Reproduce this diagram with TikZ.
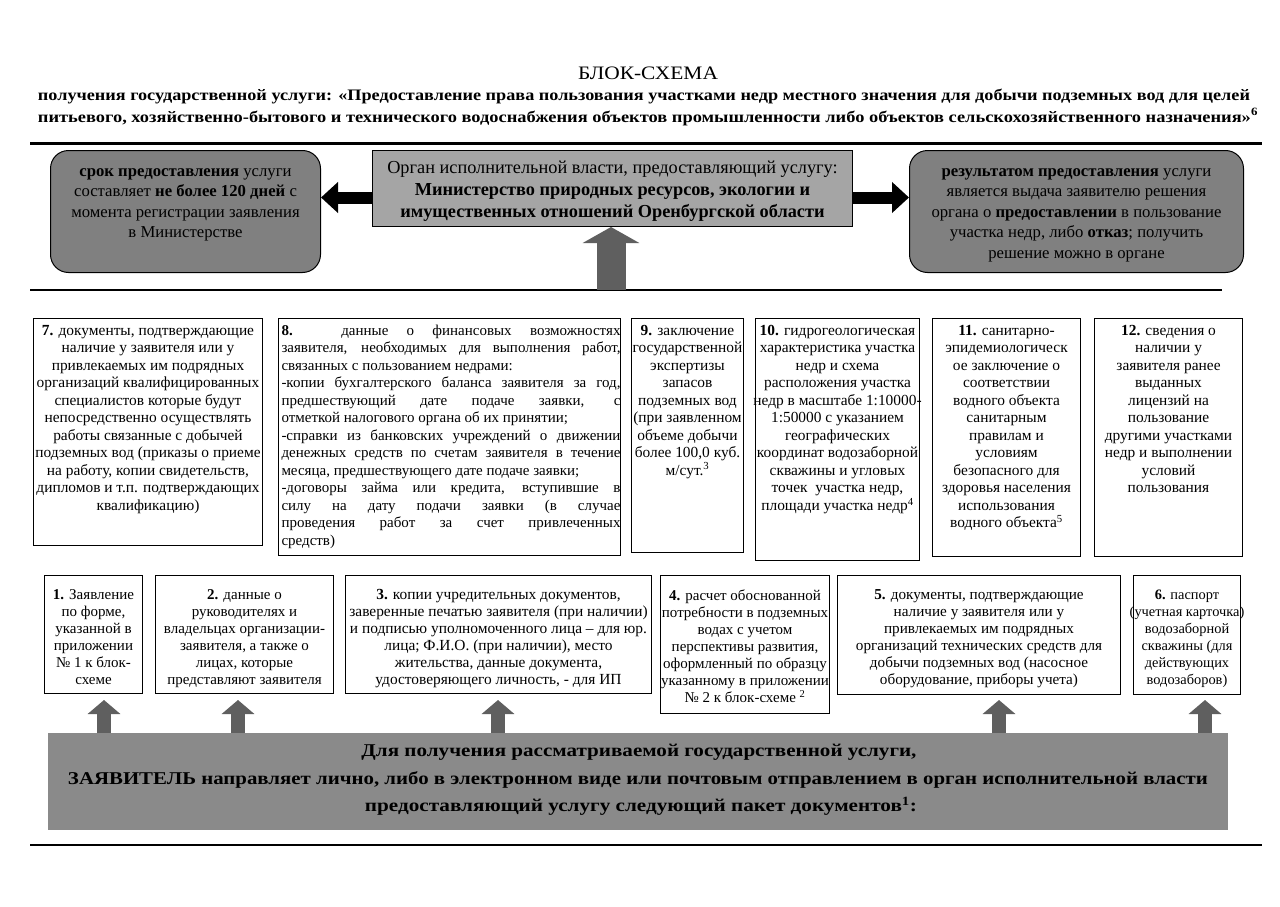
\documentclass[tikz,border=0pt]{standalone}
\usepackage{fontspec}
\setmainfont{Liberation Serif}
\usetikzlibrary{arrows.meta}
\definecolor{rgray}{RGB}{128,128,128}
\definecolor{cgray}{RGB}{165,165,165}
\definecolor{bgray}{RGB}{138,138,138}
\definecolor{agray}{RGB}{95,95,95}
\newcommand\fitw[2]{\resizebox{#1}{\height}{#2}}
\newcommand\ov[1]{\makebox[\linewidth][c]{#1}}
% middle row box text
\newcommand\bx[3]{\parbox[c][#2][t]{#1}{\vspace*{6.5pt}\centering\fontsize{15.4}{17.5}\selectfont #3}}
% lower row box text
\newcommand\lx[4]{\parbox[c][#2][t]{#1}{\vspace*{14pt}\centering\fontsize{#3}{17}\selectfont #4}}
\newcommand\rx[3]{\parbox[c][#2][t]{#1}{\vspace*{18pt}\centering\fontsize{16.7}{20.5}\selectfont #3}}
\begin{document}
\begin{tikzpicture}[x=1pt,y=-1pt,
  box/.style={draw, line width=1pt, inner sep=0pt, anchor=north west, fill=white},
  rbox/.style={draw, line width=1pt, inner sep=0pt, anchor=north west, fill=rgray, rounded corners=18pt},
  rule/.style={line width=#1},
  blkarr/.style={line width=12pt, black, -{Triangle[width=30pt,length=17pt]}},
  bigup/.style={line width=29pt, agray, -{Triangle[width=56pt,length=16pt]}},
  smallup/.style={line width=14pt, agray, -{Triangle[width=32pt,length=14pt]}}
]
\useasboundingbox (0,0) rectangle (1280,907);
\fill[white] (0,0) rectangle (1280,907);

% titles
\node[font=\fontsize{19}{22}\selectfont] (title) at (648,73) {\fitw{140pt}{БЛОК-СХЕМА}};
\node[font=\bfseries\fontsize{16}{19}\selectfont] (sub1) at (644,96) {\fitw{1212pt}{получения государственной услуги: «Предоставление права пользования участками недр местного значения для добычи подземных вод для целей}};
\node[font=\bfseries\fontsize{16}{19}\selectfont] (sub2) at (648,117) {\fitw{1220pt}{питьевого, хозяйственно-бытового и технического водоснабжения объектов промышленности либо объектов сельскохозяйственного назначения»\textsuperscript{6}}};

\draw[rule=3pt] (30,143) -- (1262,143);
\draw[rule=2pt] (30,290) -- (1222,290);
\draw[rule=2pt] (30,845) -- (1262,845);

% top row
\node[rbox] (lt) at (50,150) {\rx{270pt}{122pt}{\textbf{срок предоставления} услуги\\ составляет \textbf{не более 120 дней} с\\ момента регистрации заявления\\ в Министерстве}};
\node[rbox] (rt) at (909,150) {\rx{334pt}{122pt}{\textbf{результатом предоставления} услуги\\ является выдача заявителю решения\\ органа о \textbf{предоставлении} в пользование\\ участка недр, либо \textbf{отказ}; получить\\ решение можно в органе}};
\node[draw, line width=1pt, fill=cgray, anchor=north west, minimum width=480pt, minimum height=76pt, inner sep=0pt, align=center, font=\fontsize{18.3}{22}\selectfont] (ctr) at (372,150) {\rule{0pt}{17pt}Орган исполнительной власти, предоставляющий услугу:\\ \textbf{Министерство природных ресурсов, экологии и}\\ \textbf{имущественных отношений Оренбургской области}};

\draw[blkarr] ([yshift=-9pt]ctr.west) -- ([yshift=-9pt]ctr.west -| lt.east);
\draw[blkarr] ([yshift=-9pt]ctr.east) -- ([yshift=-9pt]ctr.east -| rt.west);
\coordinate (mid) at (611,290);
\draw[bigup] (mid) -- (mid |- ctr.south);

% middle row
\node[box] (b7) at (33,318) {\bx{229pt}{227pt}{\textbf{7.} документы, подтверждающие\\ наличие у заявителя или у\\ привлекаемых им подрядных\\ организаций квалифицированных\\ специалистов которые будут\\ непосредственно осуществлять\\ работы связанные с добычей\\ подземных вод (приказы о приеме\\ на работу, копии свидетельств,\\ дипломов и т.п. подтверждающих\\ квалификацию)}};
\node[box] (b8) at (278,318) {\hspace{3pt}\parbox[c][237pt][t]{339pt}{\vspace*{6.5pt}\fontsize{15}{17.5}\selectfont \textbf{8.} данные о финансовых возможностях\linebreak заявителя, необходимых для выполнения работ,\linebreak связанных с пользованием недрами:\\ -копии бухгалтерского баланса заявителя за год,\linebreak предшествующий дате подаче заявки, с\linebreak отметкой налогового органа об их принятии;\\ -справки из банковских учреждений о движении\linebreak денежных средств по счетам заявителя в течение\linebreak месяца, предшествующего дате подаче заявки;\\ -договоры займа или кредита, вступившие в\linebreak силу на дату подачи заявки (в случае\linebreak проведения работ за счет привлеченных\linebreak средств)}\hspace{3pt}};
\node[box] (b9) at (631,318) {\bx{112pt}{234pt}{\textbf{9.} заключение\\ \ov{государственной}\\ экспертизы\\ запасов\\ подземных вод\\ \ov{(при заявленном}\\ объеме добычи\\ \ov{более 100,0 куб.}\\ м/сут.\textsuperscript{3}}};
\node[box] (b10) at (755,318) {\bx{164pt}{242pt}{\textbf{10.} гидрогеологическая\\ \ov{характеристика участка}\\ недр и схема\\ расположения участка\\ \ov{недр в масштабе 1:10000-}\\ 1:50000 с указанием\\ географических\\ \ov{координат водозаборной}\\ скважины и угловых\\ точек~ участка недр,\\ площади участка недр\textsuperscript{4}}};
\node[box] (b11) at (932,318) {\bx{148pt}{238pt}{\textbf{11.} санитарно-\\ эпидемиологическ\\ ое заключение о\\ соответствии\\ водного объекта\\ санитарным\\ правилам и\\ условиям\\ безопасного для\\ \ov{здоровья населения}\\ использования\\ водного объекта\textsuperscript{5}}};
\node[box] (b12) at (1094,318) {\bx{148pt}{238pt}{\textbf{12.} сведения о\\ наличии у\\ заявителя ранее\\ выданных\\ лицензий на\\ пользование\\ \ov{другими участками}\\ \ov{недр и выполнении}\\ условий\\ пользования}};

% lower row
\node[box] (b1) at (44,575) {\lx{98pt}{118pt}{15}{\textbf{1.} Заявление\\ по форме,\\ указанной в\\ приложении\\ № 1 к блок-\\ схеме}};
\node[box] (b2) at (155,575) {\lx{178pt}{118pt}{15}{\textbf{2.} данные о\\ руководителях и\\ \ov{владельцах организации-}\\ заявителя, а также о\\ лицах, которые\\ \ov{представляют заявителя}}};
\node[box] (b3) at (345,575) {\lx{306pt}{118pt}{15.4}{\textbf{3.} копии учредительных документов,\\ \ov{заверенные печатью заявителя (при наличии)}\\ \ov{и подписью уполномоченного лица – для юр.}\\ лица; Ф.И.О. (при наличии), место\\ жительства, данные документа,\\ удостоверяющего личность, - для ИП}};
\node[box] (b4) at (660,575) {\lx{169pt}{138pt}{15}{\textbf{4.} расчет обоснованной\\ \ov{потребности в подземных}\\ водах с учетом\\ перспективы развития,\\ \ov{оформленный по образцу}\\ \ov{указанному в приложении}\\ № 2 к блок-схеме \textsuperscript{2}}};
\node[box] (b5) at (837,575) {\lx{283pt}{119pt}{15.2}{\textbf{5.} документы, подтверждающие\\ наличие у заявителя или у\\ привлекаемых им подрядных\\ \ov{организаций технических средств для}\\ добычи подземных вод (насосное\\ оборудование, приборы учета)}};
\node[box] (b6) at (1133,575) {\lx{107pt}{119pt}{14.4}{\textbf{6.} паспорт\\ \ov{(учетная карточка)}\\ водозаборной\\ скважины (для\\ действующих\\ водозаборов)}};

% bottom box
\node[fill=bgray, anchor=north west, minimum width=1180pt, minimum height=97pt, inner sep=0pt] (bot) at (48,733) {};
\node[font=\bfseries\fontsize{18}{22}\selectfont] (l1) at (639,752) {\fitw{555pt}{Для получения рассматриваемой государственной услуги,}};
\node[font=\bfseries\fontsize{18}{22}\selectfont] (l2) at (638,780) {\fitw{1140pt}{ЗАЯВИТЕЛЬ направляет лично, либо в электронном виде или почтовым отправлением в орган исполнительной власти}};
\node[font=\bfseries\fontsize{18}{22}\selectfont] (l3) at (641,806) {\fitw{552pt}{предоставляющий услугу следующий пакет документов\textsuperscript{1}:}};

\coordinate (s1) at (104,733);
\coordinate (s2) at (238,733);
\coordinate (s3) at (498,733);
\coordinate (s5) at (999,733);
\coordinate (s6) at (1205,733);
\draw[smallup] (s1) -- ([yshift=-6pt]s1 |- b1.south);
\draw[smallup] (s2) -- ([yshift=-6pt]s2 |- b2.south);
\draw[smallup] (s3) -- ([yshift=-6pt]s3 |- b3.south);
\draw[smallup] (s5) -- ([yshift=-5pt]s5 |- b5.south);
\draw[smallup] (s6) -- ([yshift=-5pt]s6 |- b6.south);
\end{tikzpicture}
\end{document}
